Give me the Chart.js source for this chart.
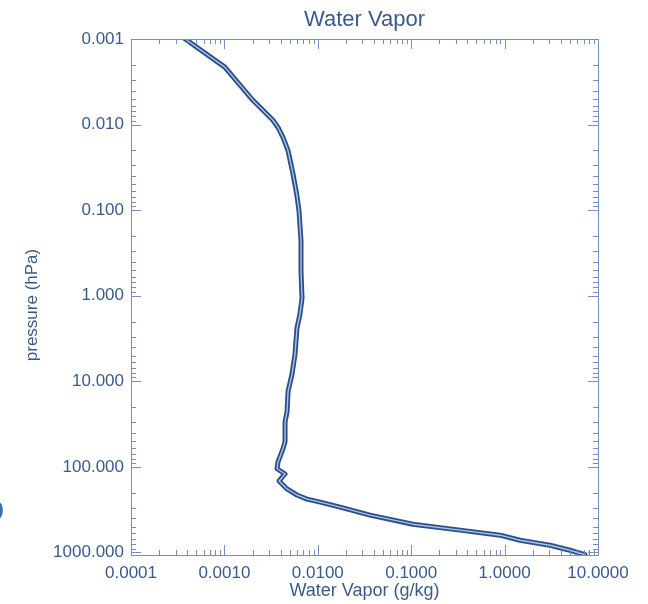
<!DOCTYPE html>
<html>
<head>
<meta charset="utf-8">
<script src="https://cdn.jsdelivr.net/npm/chart.js@4/dist/chart.umd.min.js"></script>
<style>
  html, body { margin: 0; padding: 0; background: #ffffff; overflow: hidden; }
  #wrap { position: relative; width: 648px; height: 604px; }
  #edge { position: absolute; left: -22px; top: 491px; font: 34px "Liberation Sans", Arial, sans-serif; color: #3a6cb8; }
</style>
</head>
<body>
<div id="wrap">
  <canvas id="c" width="648" height="604"></canvas>
  <div id="edge">O</div>
</div>
<script>
// ---- data ----
const chartTitle = "Water Vapor";
const xAxisTitle = "Water Vapor (g/kg)";
const yAxisTitle = "pressure (hPa)";

const waterVapor = [0.00038, 0.00101, 0.00202, 0.00331, 0.00375, 0.00424, 0.00480, 0.00542, 0.00598, 0.00629,
  0.00661, 0.00661, 0.00678, 0.00644, 0.00598, 0.00570, 0.00529, 0.00480, 0.00469, 0.00446,
  0.00446, 0.00424, 0.00375, 0.00366, 0.00446, 0.00385, 0.00468, 0.00598, 0.00765, 0.0106,
  0.0173, 0.0362, 0.104, 0.333, 0.893, 1.46, 3.06, 5.01, 6.41, 7.26];
const pressure = [0.001, 0.00213, 0.0052, 0.0089, 0.0108, 0.0141, 0.0201, 0.0374, 0.0678, 0.102,
  0.229, 0.514, 1.07, 1.64, 2.40, 4.84, 8.3, 13.2, 22.6, 29.6,
  50.9, 61.5, 87.4, 105, 121, 146, 181, 213, 238, 258,
  295, 366, 467, 548, 628, 719, 823, 942, 1021, 1060];

const xTickValues = [0.0001, 0.001, 0.01, 0.1, 1, 10];
const xTickLabels = ["0.0001", "0.0010", "0.0100", "0.1000", "1.0000", "10.0000"];
const yTickValues = [0.001, 0.01, 0.1, 1, 10, 100, 1000];
const yTickLabels = ["0.001", "0.010", "0.100", "1.000", "10.000", "100.000", "1000.000"];

const xRange = [0.0001, 10];
const yRange = [0.001, 1070];

// ---- styling ----
const textColor = "#3b5a8c";
const frameColor = "#7390c0";
const FONT = "'Liberation Sans', Arial, Helvetica, sans-serif";

const points = waterVapor.map((v, i) => ({ x: v, y: pressure[i] }));

const frameTicks = {
  id: "frameTicks",
  afterDatasetsDraw(chart) {
    const { ctx, chartArea: a, scales } = chart;
    const xs = scales.x, ys = scales.y;
    ctx.save();
    ctx.strokeStyle = frameColor;
    ctx.lineWidth = 1;
    ctx.beginPath();
    ctx.rect(Math.round(a.left) + 0.5, Math.round(a.top) + 0.5, Math.round(a.right - a.left), Math.round(a.bottom - a.top));
    ctx.stroke();
    ctx.beginPath();
    for (let d = -4; d <= 1; d++) {
      for (let m = 1; m <= 9; m++) {
        const v = m * Math.pow(10, d);
        if (v < xRange[0] * 0.999 || v > xRange[1] * 1.001) continue;
        const px = Math.round(xs.getPixelForValue(v)) + 0.5;
        const len = m === 1 ? 10 : 5;
        ctx.moveTo(px, a.bottom); ctx.lineTo(px, a.bottom - len);
        ctx.moveTo(px, a.top); ctx.lineTo(px, a.top + len);
      }
    }
    for (let d = -3; d <= 3; d++) {
      for (let m = 1; m <= 9; m++) {
        const v = m * Math.pow(10, d);
        if (v < yRange[0] * 0.999 || v > yRange[1]) continue;
        const py = Math.round(ys.getPixelForValue(v)) + 0.5;
        const len = m === 1 ? 10 : 5;
        ctx.moveTo(a.left, py); ctx.lineTo(a.left + len, py);
        ctx.moveTo(a.right, py); ctx.lineTo(a.right - len, py);
      }
    }
    ctx.stroke();
    // chart title, centred over the plot frame
    ctx.fillStyle = textColor;
    ctx.font = "22px " + FONT;
    ctx.textAlign = "center";
    ctx.textBaseline = "middle";
    ctx.fillText(chartTitle, (a.left + a.right) / 2, 20);
    // y axis title
    ctx.font = "17px " + FONT;
    ctx.translate(32, (a.top + a.bottom) / 2 + 8);
    ctx.rotate(-Math.PI / 2);
    ctx.fillText(yAxisTitle, 0, 0);
    ctx.restore();
  }
};

new Chart(document.getElementById("c"), {
  type: "scatter",
  data: {
    datasets: [
      { data: points, showLine: true, borderColor: "#a8c2e8", borderWidth: 1.4, pointRadius: 0, tension: 0,
        borderJoinStyle: "round", borderCapStyle: "round", order: 1 },
      { data: points, showLine: true, borderColor: "#2c4f88", borderWidth: 5, pointRadius: 0, tension: 0,
        borderJoinStyle: "round", borderCapStyle: "round", order: 2 }
    ]
  },
  options: {
    responsive: false,
    animation: false,
    layout: { padding: { left: 0, right: 50, top: 39, bottom: 0 } },
    plugins: {
      legend: { display: false },
      tooltip: { enabled: false },
      title: { display: false }
    },
    scales: {
      x: {
        type: "logarithmic", min: xRange[0], max: xRange[1],
        afterBuildTicks: s => { s.ticks = xTickValues.map(v => ({ value: v })); },
        afterFit: s => { s.height = 49; },
        grid: { display: false, drawTicks: false },
        border: { display: false },
        ticks: {
          color: textColor, font: { family: FONT, size: 17 }, padding: 8, maxRotation: 0, autoSkip: false,
          callback: (v) => { const i = xTickValues.findIndex(t => Math.abs(t - v) / t < 1e-6); return i >= 0 ? xTickLabels[i] : ""; }
        },
        title: { display: true, text: xAxisTitle, color: textColor, font: { family: FONT, size: 18 }, padding: { top: 0, bottom: 2 } }
      },
      y: {
        type: "logarithmic", reverse: true, min: yRange[0], max: yRange[1],
        afterBuildTicks: s => { s.ticks = yTickValues.map(v => ({ value: v })); },
        afterFit: s => { s.width = 131; },
        grid: { display: false, drawTicks: false },
        border: { display: false },
        ticks: {
          color: textColor, font: { family: FONT, size: 17 }, padding: 7, autoSkip: false,
          callback: (v) => { const i = yTickValues.findIndex(t => Math.abs(t - v) / t < 1e-6); return i >= 0 ? yTickLabels[i] : ""; }
        },
        title: { display: false }
      }
    }
  },
  plugins: [frameTicks]
});
</script>
</body>
</html>
